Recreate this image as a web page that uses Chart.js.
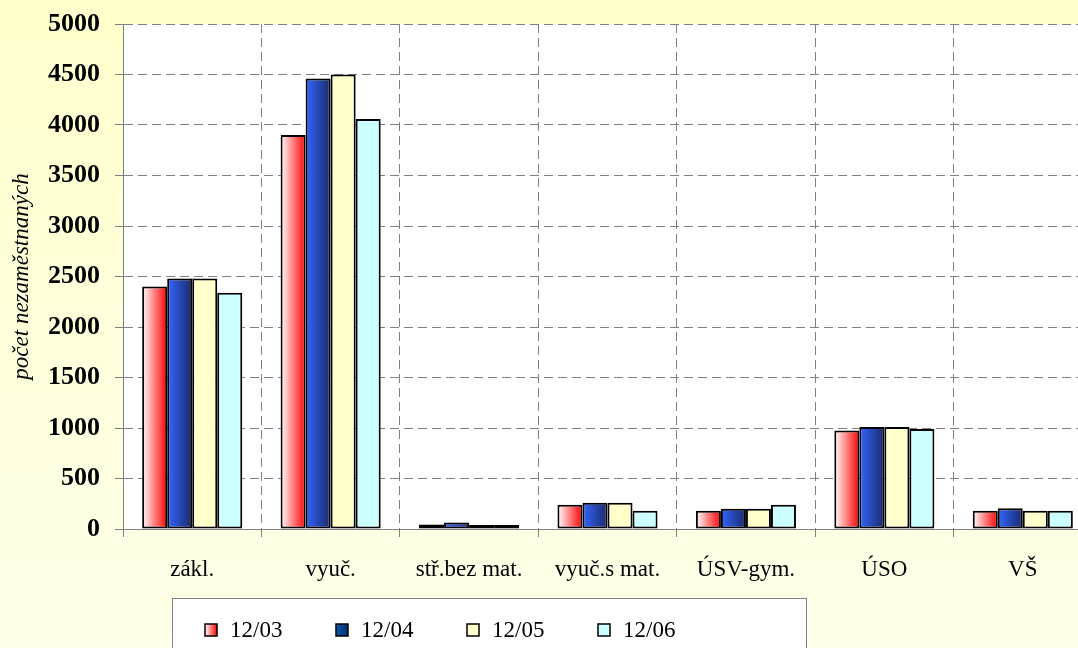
<!DOCTYPE html>
<html>
<head>
<meta charset="utf-8">
<script src="https://cdn.jsdelivr.net/npm/chart.js@4.4.1/dist/chart.umd.min.js"></script>
<style>
	html, body { margin: 0; padding: 0; overflow: hidden; background: #FFFFDD; }
	#chart { display: block; }
</style>
</head>
<body>
<canvas id="chart" width="1092" height="648" style="width:1092px;height:648px"></canvas>
<script>
// Data
const categories = ['zákl.', 'vyuč.', 'stř.bez mat.', 'vyuč.s mat.', 'ÚSV-gym.', 'ÚSO', 'VŠ'];
const seriesNames = ['12/03', '12/04', '12/05', '12/06'];
const values1203 = [2400, 3900, 45, 240, 180, 975, 180];
const values1204 = [2480, 4460, 65, 260, 200, 1010, 205];
const values1205 = [2480, 4500, 40, 260, 200, 1010, 180];
const values1206 = [2340, 4060, 40, 180, 240, 990, 180];
const yMin = 0;
const yMax = 5000;
const yStep = 500;

const CAT_PCT = 0.723;
const serif = "'Liberation Serif', 'Times New Roman', serif";

// horizontal gradient fill across one bar
function barGradient(stops, fallback) {
	return function(c) {
		const chart = c.chart;
		const xs = chart.scales.x;
		if (!chart.chartArea || !xs) return fallback;
		const catW = xs.width / categories.length;
		const barW = catW * CAT_PCT / 4;
		const center = xs.getPixelForValue(c.dataIndex);
		const left = center + (c.datasetIndex - 2) * barW;
		const g = chart.ctx.createLinearGradient(left, 0, left + barW, 0);
		stops.forEach(s => g.addColorStop(s[0], s[1]));
		return g;
	};
}

const redStops = [[0, '#FFFFFF'], [1, '#FF0000']];
const blueStops = [[0, '#3366FF'], [1, '#1A2A6A']];

// legend swatch painters
function swatchFill(ctx, i, x, w) {
	if (i === 0 || i === 1) {
		const g = ctx.createLinearGradient(x, 0, x + w, 0);
		(i === 0 ? redStops : [[0, '#0A5AB0'], [1, '#003070']]).forEach(s => g.addColorStop(s[0], s[1]));
		return g;
	}
	return i === 2 ? '#FFFFCC' : '#CCFFFF';
}

const backgroundPlugin = {
	id: 'bg',
	beforeDraw(chart) {
		const {ctx, width, height, chartArea} = chart;
		ctx.save();
		const g = ctx.createLinearGradient(0, 0, 0, height);
		g.addColorStop(0, '#FFFFCC');
		g.addColorStop(1, '#FFFFEA');
		ctx.fillStyle = g;
		ctx.fillRect(0, 0, width, height);
		ctx.fillStyle = '#FFFFFF';
		ctx.fillRect(chartArea.left, chartArea.top, chartArea.right - chartArea.left, chartArea.bottom - chartArea.top);
		ctx.restore();
	}
};

const legendBoxPlugin = {
	id: 'legendBox',
	afterDraw(chart) {
		const ctx = chart.ctx;
		ctx.save();
		ctx.fillStyle = '#FFFFFF';
		ctx.fillRect(172.5, 598.5, 634, 60);
		ctx.strokeStyle = '#808080';
		ctx.lineWidth = 1;
		ctx.strokeRect(172.5, 598.5, 634, 60);
		ctx.font = '23px ' + serif;
		ctx.textBaseline = 'alphabetic';
		chart.data.datasets.forEach((ds, i) => {
			const x = 205 + i * 131;
			ctx.fillStyle = swatchFill(ctx, i, x, 12);
			ctx.fillRect(x, 624, 12, 12);
			ctx.strokeStyle = '#000000';
			ctx.lineWidth = 1.5;
			ctx.strokeRect(x, 624, 12, 12);
			ctx.fillStyle = '#000000';
			ctx.fillText(ds.label, x + 25, 637);
		});
		ctx.restore();
	}
};

const ctx = document.getElementById('chart');
new Chart(ctx, {
	type: 'bar',
	data: {
		labels: categories,
		datasets: [
			{ label: seriesNames[0], data: values1203, backgroundColor: barGradient(redStops, '#FF8080') },
			{ label: seriesNames[1], data: values1204, backgroundColor: barGradient(blueStops, '#2848B0') },
			{ label: seriesNames[2], data: values1205, backgroundColor: '#FFFFCC' },
			{ label: seriesNames[3], data: values1206, backgroundColor: '#CCFFFF' }
		].map(d => Object.assign(d, {
			borderColor: '#000000',
			borderWidth: 2,
			borderSkipped: false,
			categoryPercentage: CAT_PCT,
			barPercentage: 1
		}))
	},
	options: {
		responsive: false,
		animation: false,
		devicePixelRatio: 1,
		layout: {
			padding: { top: 24, left: 0, right: 0, bottom: 0 }
		},
		plugins: {
			legend: { display: false },
			tooltip: { enabled: false }
		},
		scales: {
			x: {
				offset: true,
				grid: {
					offset: true,
					color: '#808080',
					tickLength: 8,
					tickColor: '#808080'
				},
				border: { color: '#808080', width: 1, dash: [9, 5] },
				ticks: {
					color: '#000000',
					font: { family: serif, size: 23 },
					padding: 19,
					maxRotation: 0,
					autoSkip: false
				},
				afterFit(scale) {
					scale.height = 119;
					scale.paddingLeft = 0;
					scale.paddingRight = 0;
				}
			},
			y: {
				min: yMin,
				max: yMax,
				grid: {
					color: '#808080',
					tickLength: 8,
					tickColor: '#808080'
				},
				border: { color: '#808080', width: 1, dash: [9, 5] },
				ticks: {
					stepSize: yStep,
					color: '#000000',
					font: { family: serif, size: 26, weight: 'bold' },
					padding: 15,
					callback: v => String(v)
				},
				title: {
					display: true,
					text: 'počet nezaměstnaných',
					color: '#000000',
					font: { family: serif, size: 23, style: 'italic' },
					padding: { top: 8, bottom: 0 }
				},
				afterFit(scale) {
					scale.width = 123;
					scale.paddingTop = 0;
					scale.paddingBottom = 0;
				}
			}
		}
	},
	plugins: [backgroundPlugin, legendBoxPlugin]
});
</script>
</body>
</html>
